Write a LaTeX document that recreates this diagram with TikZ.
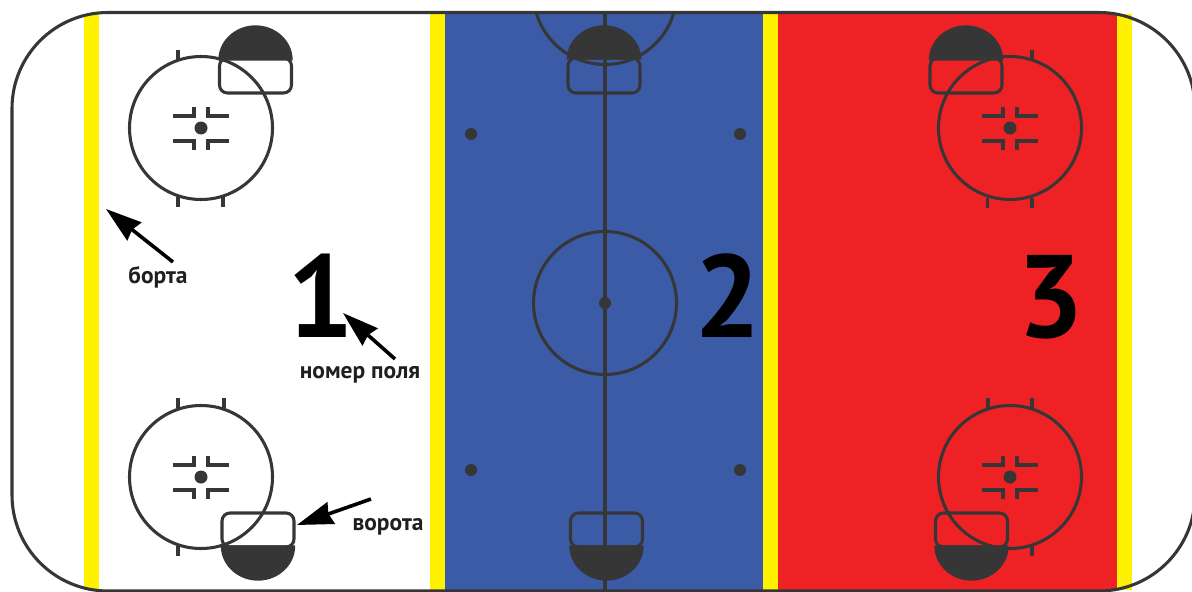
\documentclass[tikz,border=0pt]{standalone}
\usepackage{fontspec}
\setmainfont{PT Sans}
\usetikzlibrary{arrows.meta}
\definecolor{rinkblue}{HTML}{3B5BA7}
\definecolor{rinkred}{HTML}{EE2225}
\definecolor{rinkyellow}{HTML}{FFF200}
\definecolor{rinkdark}{HTML}{363636}
\tikzset{
  band/.style={fill=#1,draw=none},
  rinkline/.style={draw=rinkdark,line width=2.3pt},
  thinmark/.style={draw=rinkdark,line width=2.3pt},
  domeshape/.style={fill=rinkdark,draw=rinkdark,line width=1pt,line join=round},
  goalbox/.style={draw=rinkdark,line width=2.3pt,rounded corners=6pt},
  spot/.style={fill=rinkdark,draw=none},
  fieldnum/.style={font=\bfseries\fontsize{88}{88}\selectfont,text=black,inner sep=0pt,anchor=base},
  annot/.style={font=\bfseries\fontsize{17.6}{18}\selectfont,text=black!88,inner sep=0pt,anchor=base},
  pointer/.style={draw=black,line width=2.7pt,-{Stealth[length=27pt,width=17pt,inset=2pt]}},
}
\newcommand{\faceoff}[2]{%
  \draw[thinmark] (#1,#2) circle[radius=71.5];
  \fill[spot] (#1,#2) circle[radius=6.5];
  \draw[thinmark] (#1-28,#2-12) -- (#1-7,#2-12) -- (#1-7,#2-21);
  \draw[thinmark] (#1+28,#2-12) -- (#1+7,#2-12) -- (#1+7,#2-21);
  \draw[thinmark] (#1-28,#2+13) -- (#1-7,#2+13) -- (#1-7,#2+22);
  \draw[thinmark] (#1+28,#2+13) -- (#1+7,#2+13) -- (#1+7,#2+22);
}
\newcommand{\domegoal}[5]{% cx, box top, box bottom, dome base, dome tip
  \path[domeshape] (#1-36.5,#4) .. controls (#1-36.5,{#4+(#5-#4)*0.55}) and (#1-20,#5) .. (#1,#5)
     .. controls (#1+20,#5) and (#1+36.5,{#4+(#5-#4)*0.55}) .. (#1+36.5,#4) -- cycle;
  \draw[goalbox] (#1-36,#2) rectangle (#1+36,#3);
}
\begin{document}
\begin{tikzpicture}[x=0.75pt,y=-0.75pt]
\useasboundingbox (0,0) rectangle (1192,592);
\fill[white] (0,0) rectangle (1192,592);
% bands
\fill[band=rinkyellow] (84,14) rectangle (99,590);
\fill[band=rinkyellow] (430,14) rectangle (445,590);
\fill[band=rinkblue] (445,14) rectangle (763,590);
\fill[band=rinkyellow] (763,14) rectangle (778,590);
\fill[band=rinkred] (778,14) rectangle (1117,590);
\fill[band=rinkyellow] (1117,14) rectangle (1132,590);
% outline
\draw[rinkline,rounded corners=72pt] (12,300) -- (12,12.5) -- (1195,12.5) -- (1195,591) -- (12,591) -- cycle;
% zone 1
\draw[thinmark] (178,50) -- (178,60);
\draw[thinmark] (178,197) -- (178,207) (223,197) -- (223,207);
\domegoal{255.5}{58}{93}{60}{26}
\faceoff{201}{128}
\draw[thinmark] (178,398) -- (178,408) (224,398) -- (224,408);
\draw[thinmark] (178,546) -- (178,556);
\domegoal{258}{513}{547}{546}{580}
\faceoff{201}{477}
% zone 2
\begin{scope}
\clip (445,14) rectangle (763,590);
\draw[thinmark] (605,-7) circle[radius=71.5];
\end{scope}
\draw[thinmark] (605,14) -- (605,590);
\domegoal{604}{58}{93}{59}{26}
\domegoal{606.5}{513}{547}{546}{580}
\draw[thinmark] (605,303) circle[radius=71.5];
\fill[spot] (605,303) circle[radius=6];
\fill[spot] (471,134) circle[radius=6];
\fill[spot] (740,134) circle[radius=6];
\fill[spot] (471,470) circle[radius=6];
\fill[spot] (740,470) circle[radius=6];
% zone 3
\draw[thinmark] (1032,50) -- (1032,60);
\draw[thinmark] (987.5,198) -- (987.5,208) (1032,198) -- (1032,208);
\domegoal{966}{58}{93}{60}{26}
\faceoff{1010}{128}
\draw[thinmark] (988,398) -- (988,408) (1032,398) -- (1032,408);
\draw[thinmark] (1032,546) -- (1032,556);
\domegoal{971.5}{513}{547}{546}{580}
\faceoff{1010}{477}
% numbers
\node[fieldnum] (num1) at (320.5,337) {1};
\node[fieldnum] (num2) at (727.5,337) {2};
\node[fieldnum] (num3) at (1050.5,337) {3};
% labels
\node[annot] (lblborta) at (158,283) {борта};
\node[annot] (lblnum) at (360,378) {номер поля};
\node[annot] (lblgoal) at (388,530) {ворота};
% arrows
\coordinate (bortatail) at (173,262);
\coordinate (bortatip) at (106,209);
\coordinate (numtail) at (395,359);
\coordinate (numtip) at (343,313);
\coordinate (goaltail) at (371,499);
\coordinate (goaltip) at (297,525);
\draw[pointer] (bortatail) -- (bortatip);
\draw[pointer] (numtail) -- (numtip);
\draw[pointer] (goaltail) -- (goaltip);
\end{tikzpicture}
\end{document}
